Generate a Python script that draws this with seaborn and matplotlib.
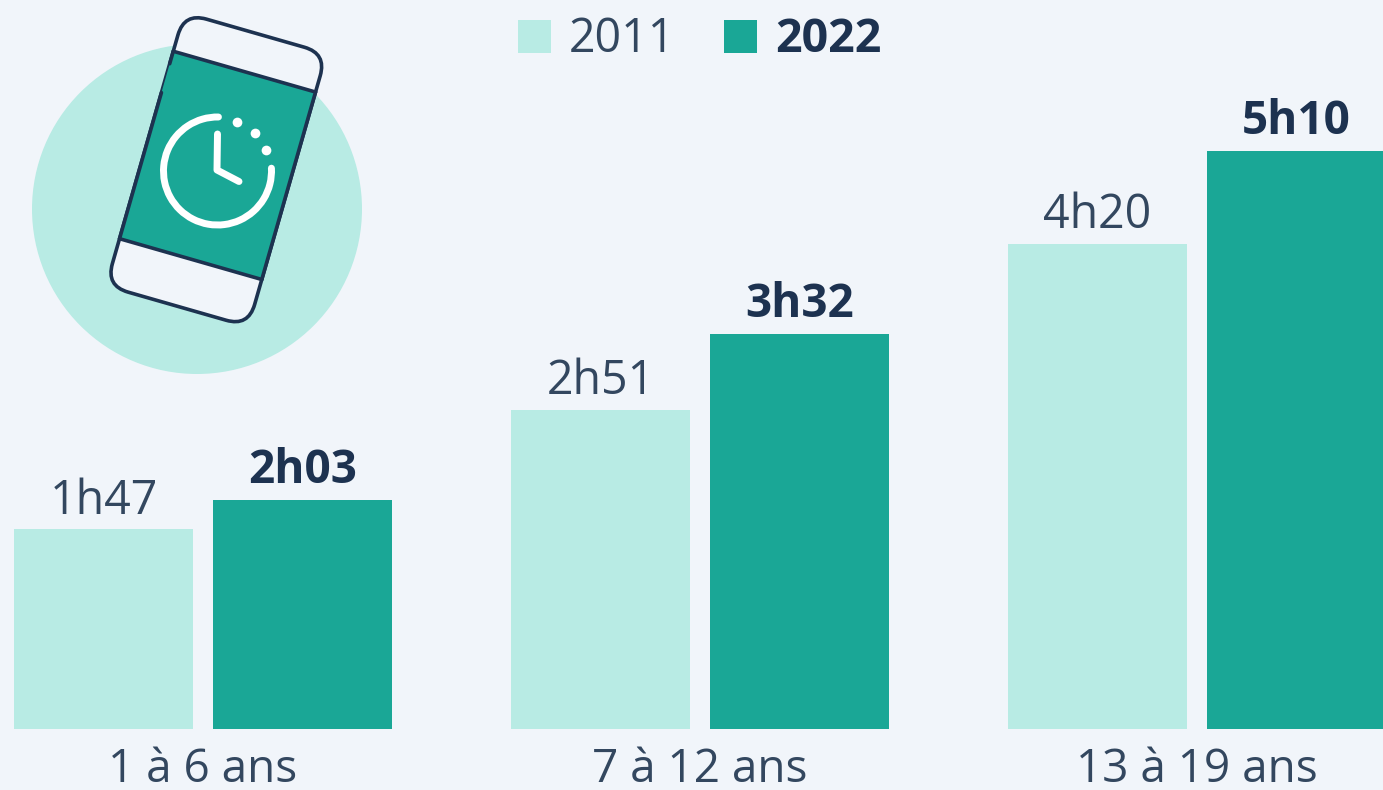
import pandas as pd
import matplotlib.pyplot as plt
import seaborn as sns
from matplotlib.patches import Circle, FancyBboxPatch, Rectangle, Arc
from matplotlib.transforms import Affine2D

# Data: screen time in minutes per day
age_groups = ["1 à 6 ans", "7 à 12 ans", "13 à 19 ans"]
minutes_2011 = [107, 171, 260]
minutes_2022 = [123, 212, 310]
labels_2011 = ["1h47", "2h51", "4h20"]
labels_2022 = ["2h03", "3h32", "5h10"]

BG = "#f1f5fa"
LIGHT = "#b8ebe4"
TEAL = "#1aa796"
NAVY = "#1d3250"
GREY_NAVY = "#33475f"

data = pd.DataFrame({
    "age": age_groups * 2,
    "minutes": minutes_2011 + minutes_2022,
    "year": ["2011"] * 3 + ["2022"] * 3,
})

sns.set_theme(style="white")
plt.rcParams["font.family"] = ["Open Sans", "DejaVu Sans"]

W, H = 1383, 790
fig = plt.figure(figsize=(W / 100, H / 100), dpi=100, facecolor=BG)
ax = fig.add_axes([0, 61 / H, 1, 729 / H], facecolor=BG)

sns.barplot(data=data, x="age", y="minutes", hue="year",
            palette={"2011": LIGHT, "2022": TEAL}, saturation=1,
            width=0.8, gap=0.1, linewidth=0, ax=ax)

# Keep the axes scale so the last bar runs off the edge
ax.set_xlim(-203 / 497, (W - 203) / 497)
ax.set_ylim(0, 729 / 1.865)
sns.despine(ax=ax, left=True, bottom=True)
ax.set_xlabel("")
ax.set_ylabel("")
ax.set_yticks([])
ax.tick_params(axis="x", length=0, pad=13, labelsize=33, labelcolor=GREY_NAVY)

# Data labels
ax.bar_label(ax.containers[0], labels=labels_2011, padding=3.5, fontsize=33.5, color=GREY_NAVY)
ax.bar_label(ax.containers[1], labels=labels_2022, padding=4, fontsize=33,
             color=NAVY, fontweight="bold")

# Legend
leg = ax.legend(loc="upper left", bbox_to_anchor=(518 / W, 1 - 16 / 729), ncol=2, frameon=False,
                fontsize=33.5, borderpad=0, borderaxespad=0, handlelength=0.71, handleheight=0.71,
                handletextpad=0.39, columnspacing=1.05, title=None)
leg.get_texts()[0].set_color(GREY_NAVY)
leg.get_texts()[1].set_color(NAVY)
leg.get_texts()[1].set_fontweight("bold")

# Phone icon, drawn in pixel coordinates on an overlay
icon = fig.add_axes([0, 0, 1, 1], facecolor="none")
icon.set_xlim(0, W)
icon.set_ylim(H, 0)
icon.axis("off")

icon.add_patch(Circle((197, 209), 165, fc=LIGHT, ec="none"))

# y runs downwards, so positive rotation tilts the top edge down to the right
rot = Affine2D().rotate_deg(16).translate(216.3, 169.7) + icon.transData
icon.add_patch(FancyBboxPatch((-74 + 23, -142 + 23), 148 - 46, 284 - 46,
                              boxstyle="round,pad=23,rounding_size=23",
                              fc=BG, ec=NAVY, lw=2.6, transform=rot, zorder=2))
icon.add_patch(Rectangle((-74, -102), 148, 195, fc=TEAL, ec="none", transform=rot, zorder=3))
icon.plot([-74, 74], [-102, -102], color=NAVY, lw=2.6, transform=rot, zorder=4)
icon.plot([-74, 74], [93, 93], color=NAVY, lw=2.6, transform=rot, zorder=4)
# Side edges over the screen, left one has a small break
icon.plot([74, 74], [-102, 93], color=NAVY, lw=2.6, transform=rot, zorder=4)
icon.plot([-74, -74], [-102, -89], color=NAVY, lw=2.6, transform=rot, zorder=4)
icon.plot([-74, -74], [-59, 93], color=NAVY, lw=2.6, transform=rot, zorder=4)

# Clock
icon.add_patch(Arc((217.5, 171), 108, 108, theta1=-3, theta2=271, color="white",
                   lw=5, capstyle="round", zorder=5, transform=icon.transData))
icon.plot([217.5, 217, 239], [134, 170, 181.5], color="white", lw=5,
          solid_capstyle="round", solid_joinstyle="round", zorder=5)
icon.plot([237, 254.5, 266], [122, 133, 150], "o", color="white", ms=7, mew=0, zorder=5)

fig.savefig("out.png", dpi=100, facecolor=BG)
